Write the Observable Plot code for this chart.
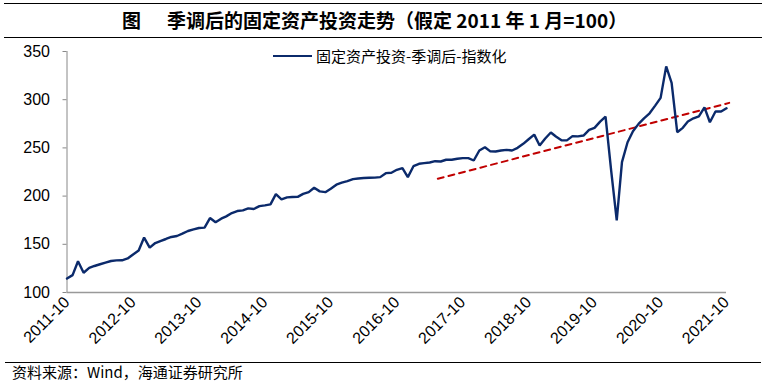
<!DOCTYPE html>
<html><head><meta charset="utf-8">
<script src="https://cdn.jsdelivr.net/npm/d3@7"></script>
<script src="https://cdn.jsdelivr.net/npm/@observablehq/plot@0.6"></script>
<style>
html,body{margin:0;padding:0;background:#fff;}
#wrap{position:relative;width:766px;height:384px;overflow:hidden;font-family:"Liberation Sans",Arial,sans-serif;}
#topline{position:absolute;left:4px;width:758px;top:3px;border-top:1.5px solid #000;}
#title{position:absolute;left:122px;top:8px;white-space:nowrap;font-family:"Noto Sans CJK SC",sans-serif;font-weight:bold;font-size:19px;line-height:24px;color:#000;}
#title .fig{margin-right:26px;}
#titleline{position:absolute;left:4px;width:758px;top:37px;border-top:1.5px solid #000;}
#chart{position:absolute;left:0;top:40px;}
#legend{position:absolute;left:273px;top:46px;font-family:"Noto Sans CJK SC",sans-serif;font-size:15px;line-height:19px;color:#000;display:flex;align-items:center;}
#legend .sw{display:inline-block;width:39px;height:0;border-top:2.5px solid #0b2a6b;margin-right:4px;}
#srcline{position:absolute;left:5px;width:756px;top:362px;border-top:1.5px solid #000;}
#source{position:absolute;left:12px;top:362px;font-family:"Noto Sans CJK SC",sans-serif;font-size:15px;line-height:20px;color:#000;}
</style></head>
<body>
<div id="wrap">
  <div id="topline"></div>
  <div id="title"><span class="fig">图</span>季调后的固定资产投资走势（假定 2011 年 1 月=100）</div>
  <div id="titleline"></div>
  <div id="chart"></div>
  <div id="legend"><span class="sw"></span><span id="legtext"></span></div>
  <div id="srcline"></div>
  <div id="source">资料来源：Wind，海通证券研究所</div>
</div>
<script>
const seriesName = "固定资产投资-季调后-指数化";
const startMonth = "2011-10";
const endMonth = "2021-10";
const fai = [114.5,118,132.4,120.5,125.5,127.5,129.3,131,132.7,133.3,
133.4,135.3,139.5,143.5,157,146.5,151.3,153.4,155.5,157.6,
158.6,161,163.8,165.5,166.9,167.3,177.2,172.8,176.6,179,
182.4,184.5,185.2,187.3,186.6,189.6,190.4,191.4,202,196.6,
198.7,199,199.2,202.3,204.1,208.7,204.9,204.1,207.6,211.8,
213.9,215.5,217.6,218.3,218.8,219,219.2,219.7,223.8,224.2,
227.3,229,219.7,231,233.5,234.2,234.9,236.2,235.9,237.7,
237.7,238.7,239.4,239.4,236.9,247.3,250.7,246.6,246.3,247.3,
248,247.3,250.1,254.2,259,263.8,252.5,259.7,266,261.8,
258,257.8,262.2,262,262.8,268.7,270.8,277.3,282.5,226.6,
174.8,235.2,255.9,267.3,274.9,280.7,285.9,293.9,301.9,334.6,
317.4,266.3,270.8,277.3,280.7,282.8,292.1,276.6,287.7,287.7,
291.1];
const trendDates = ["2017-05-16","2021-10-16"];
const trendValues = [218,296.7];
const xTickLabels = ["2011-10","2012-10","2013-10","2014-10","2015-10","2016-10","2017-10","2018-10","2019-10","2020-10","2021-10"];
const yTicks = [100,150,200,250,300,350];

const parseM = d3.utcParse("%Y-%m");
const months = d3.utcMonth.range(parseM(startMonth), d3.utcMonth.offset(parseM(endMonth),1));
const data = months.map((d,i)=>({date:d, value:fai[i]}));
const trend = trendDates.map((d,i)=>({date:d3.utcParse("%Y-%m-%d")(d), value:trendValues[i]}));
const xTicks = xTickLabels.map(parseM);

document.getElementById("legtext").textContent = seriesName;

const H = 322;
const chart = Plot.plot({
  width: 766, height: H,
  marginLeft: 66.5, marginRight: 40, marginTop: 11, marginBottom: H-252,
  style:{fontFamily:'"Liberation Sans",Arial,sans-serif', fontSize:"16px", color:"#000", background:"#fff"},
  x:{type:"utc", domain:[parseM(startMonth), parseM(endMonth)]},
  y:{domain:[100,350]},
  marks:[
    Plot.axisY({ticks:yTicks, tickSize:4, tickPadding:13, stroke:"#888", label:null, fontSize:16, fill:"#000"}),
    Plot.axisX({ticks:xTicks, tickFormat:d3.utcFormat("%Y-%m"), tickRotate:-45, tickSize:0, tickPadding:7, label:null, fontSize:16, fill:"#000"}),
    Plot.ruleX([parseM(startMonth)], {stroke:"#888", strokeWidth:1}),
    Plot.ruleY([100], {stroke:"#999", strokeWidth:1.5}),
    Plot.line(trend, {x:"date", y:"value", stroke:"#c00000", strokeWidth:2, strokeDasharray:"6,5"}),
    Plot.line(data, {x:"date", y:"value", stroke:"#0b2a6b", strokeWidth:2.4, strokeLinejoin:"miter"})
  ]
});
document.getElementById("chart").appendChild(chart);
</script>
</body></html>
